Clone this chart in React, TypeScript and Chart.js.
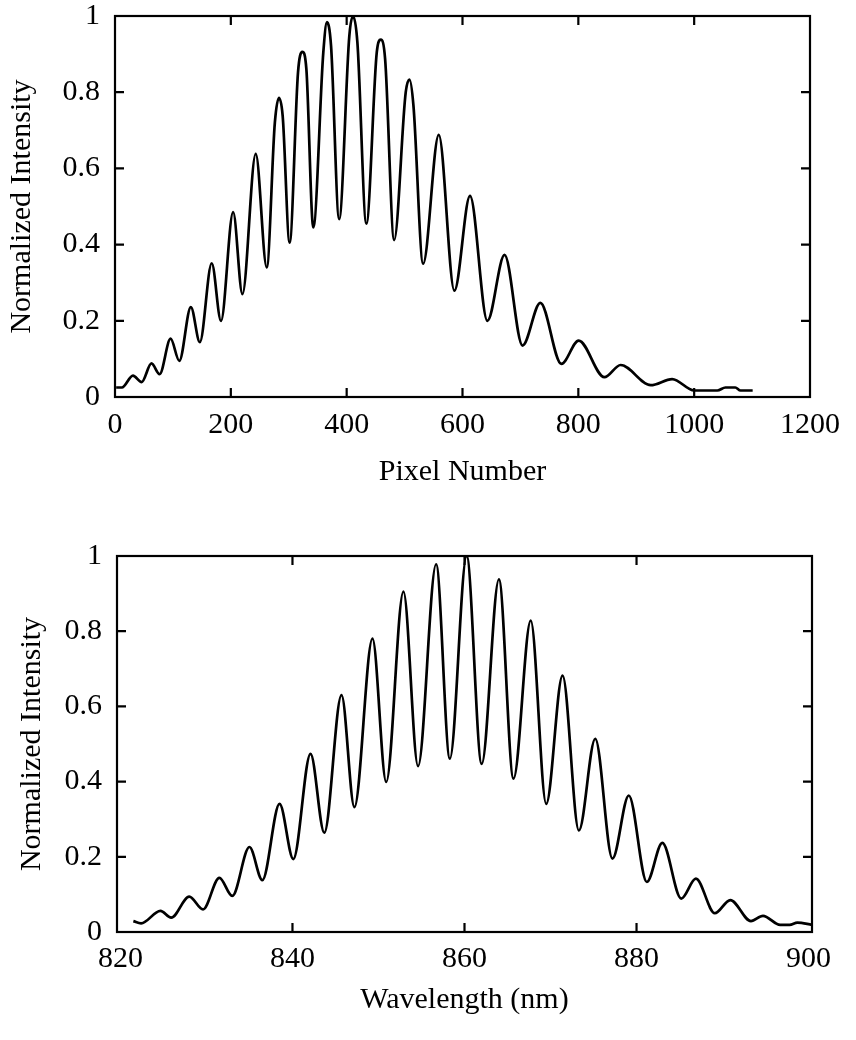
import React, { useEffect, useRef } from "react";
import { Chart, registerables } from "chart.js";

Chart.register(...registerables);

// ---- Data ----
const pixelNumber = [
  2, 12, 31, 46, 63, 77, 96, 111, 131, 146.5, 167, 183, 204, 220, 243, 262, 276, 283, 289.5,
  301.5, 316, 323.4, 330.4, 342.4, 359.7, 366, 373, 387, 404.6, 411, 418.5, 434, 452, 459,
  466.4, 482, 502, 508.5, 515.3, 532, 559, 586, 613, 643, 672.6, 703.7, 734.4, 770.7,
  800.6, 845, 873, 925, 962, 1000, 1040, 1054, 1071, 1080, 1101,
];
const pixelIntensity = [
  0.025, 0.025, 0.056, 0.039, 0.088, 0.06, 0.153, 0.095, 0.236, 0.144, 0.351, 0.2, 0.485,
  0.27, 0.638, 0.34, 0.72, 0.785, 0.738, 0.405, 0.852, 0.906, 0.861, 0.445, 0.905, 0.984,
  0.922, 0.467, 0.948, 1.0, 0.931, 0.455, 0.905, 0.938, 0.887, 0.412, 0.8, 0.833, 0.765,
  0.35, 0.688, 0.279, 0.528, 0.2, 0.373, 0.135, 0.247, 0.087, 0.148, 0.052, 0.084, 0.031,
  0.047, 0.017, 0.017, 0.025, 0.025, 0.017, 0.017,
];

const wavelengthNm = [
  821.5, 822.4, 824.65, 825.9, 828.0, 829.6, 831.5, 833.0, 835.0, 836.5, 838.5, 840.1,
  842.1, 843.7, 845.7, 847.2, 849.3, 850.9, 852.9, 854.6, 856.7, 858.3, 860.25, 862.0,
  864.0, 865.7, 867.7, 869.5, 871.4, 873.3, 875.2, 877.2, 879.1, 881.2, 883.0, 885.2,
  886.9, 889.1, 890.9, 893.3, 894.7, 896.7, 897.8, 898.7, 900.4,
];
const wavelengthIntensity = [
  0.029, 0.023, 0.056, 0.038, 0.094, 0.06, 0.144, 0.096, 0.226, 0.138, 0.341, 0.194,
  0.474, 0.264, 0.63, 0.332, 0.78, 0.399, 0.905, 0.441, 0.978, 0.461, 1.0, 0.447,
  0.938, 0.408, 0.828, 0.341, 0.682, 0.27, 0.514, 0.195, 0.363, 0.133, 0.237, 0.089,
  0.142, 0.05, 0.085, 0.029, 0.043, 0.019, 0.019, 0.025, 0.019,
];

const pixelTicks = [0, 200, 400, 600, 800, 1000, 1200];
const wavelengthTicks = [820, 840, 860, 880, 900];
const intensityTicks = [0, 0.2, 0.4, 0.6, 0.8, 1];

const FONT = "'Liberation Serif', 'Times New Roman', serif";

const frameTicks = {
  id: "frameTicks",
  afterDatasetsDraw(chart: any) {
    const { ctx, chartArea: a, scales } = chart;
    ctx.save();
    ctx.strokeStyle = "#000";
    ctx.lineWidth = 2.2;
    ctx.strokeRect(a.left, a.top, a.right - a.left, a.bottom - a.top);
    const L = 9;
    ctx.beginPath();
    for (const t of scales.x.ticks) {
      const px = scales.x.getPixelForValue(t.value);
      if (px <= a.left + 4 || px >= a.right - 4) continue;
      ctx.moveTo(px, a.bottom);
      ctx.lineTo(px, a.bottom - L);
      ctx.moveTo(px, a.top);
      ctx.lineTo(px, a.top + L);
    }
    for (const t of scales.y.ticks) {
      const py = scales.y.getPixelForValue(t.value);
      if (py <= a.top + 4 || py >= a.bottom - 4) continue;
      ctx.moveTo(a.left, py);
      ctx.lineTo(a.left + L, py);
      ctx.moveTo(a.right, py);
      ctx.lineTo(a.right - L, py);
    }
    ctx.stroke();
    ctx.restore();
  },
};

type Spec = {
  xs: number[];
  ys: number[];
  xTicks: number[];
  xMin: number;
  xMax: number;
  xTitle: string;
  padTop: number;
  padRight: number;
  yAxisWidth: number;
  xAxisHeight: number;
  xTitleBottom: number;
  xTickPad: number;
  yTitlePad: number;
};

function makeConfig(s: Spec): any {
  return {
    type: "line",
    data: {
      datasets: [
        {
          data: s.xs.map((x, i) => ({ x, y: s.ys[i] })),
          borderColor: "#000",
          borderWidth: 2.7,
          pointRadius: 0,
          fill: false,
          cubicInterpolationMode: "monotone",
        },
      ],
    },
    options: {
      responsive: false,
      animation: false,
      events: [],
      layout: { padding: { top: s.padTop, right: s.padRight, left: 0, bottom: 0 } },
      plugins: { legend: { display: false }, tooltip: { enabled: false } },
      scales: {
        x: {
          type: "linear",
          min: s.xMin,
          max: s.xMax,
          afterBuildTicks: (sc: any) => {
            sc.ticks = s.xTicks.map((v) => ({ value: v }));
          },
          afterFit: (sc: any) => {
            sc.height = s.xAxisHeight;
            sc.paddingLeft = 0;
            sc.paddingRight = 0;
          },
          grid: { display: false, drawTicks: false },
          border: { display: false },
          ticks: {
            autoSkip: false,
            maxRotation: 0,
            padding: s.xTickPad,
            color: "#000",
            font: { family: FONT, size: 30, lineHeight: 1 },
            callback: (v: any) => String(v),
          },
          title: {
            display: true,
            text: s.xTitle,
            color: "#000",
            font: { family: FONT, size: 30, lineHeight: 1.2 },
            padding: { top: 0, bottom: s.xTitleBottom },
          },
        },
        y: {
          type: "linear",
          min: 0,
          max: 1,
          afterBuildTicks: (sc: any) => {
            sc.ticks = intensityTicks.map((v) => ({ value: v }));
          },
          afterFit: (sc: any) => {
            sc.width = s.yAxisWidth;
            sc.paddingTop = 0;
            sc.paddingBottom = 0;
          },
          grid: { display: false, drawTicks: false },
          border: { display: false },
          ticks: {
            autoSkip: false,
            padding: 15,
            color: "#000",
            font: { family: FONT, size: 30, lineHeight: 1 },
            callback: (v: any) => String(v),
          },
          title: {
            display: true,
            text: "Normalized Intensity",
            color: "#000",
            font: { family: FONT, size: 30, lineHeight: 1.2 },
            padding: { top: s.yTitlePad, bottom: 0 },
          },
        },
      },
    },
    plugins: [frameTicks],
  };
}

function ChartCanvas({ spec, width, height, top }: { spec: Spec; width: number; height: number; top: number }) {
  const ref = useRef<HTMLCanvasElement | null>(null);
  useEffect(() => {
    if (!ref.current) return;
    const chart = new Chart(ref.current, makeConfig(spec));
    return () => chart.destroy();
  }, []);
  return (
    <canvas
      ref={ref}
      width={width}
      height={height}
      style={{ position: "absolute", left: 0, top, width, height, display: "block" }}
    />
  );
}

export default function App() {
  const topSpec: Spec = {
    xs: pixelNumber,
    ys: pixelIntensity,
    xTicks: pixelTicks,
    xMin: 0,
    xMax: 1200,
    xTitle: "Pixel Number",
    padTop: 16,
    padRight: 46,
    yAxisWidth: 115,
    xAxisHeight: 103,
    xTitleBottom: 10,
    xTickPad: 13,
    yTitlePad: 4,
  };
  const bottomSpec: Spec = {
    xs: wavelengthNm,
    ys: wavelengthIntensity,
    xTicks: wavelengthTicks,
    xMin: 819.6,
    xMax: 900.4,
    xTitle: "Wavelength (nm)",
    padTop: 36,
    padRight: 44,
    yAxisWidth: 117,
    xAxisHeight: 108,
    xTitleBottom: 22,
    xTickPad: 12,
    yTitlePad: 14,
  };
  return (
    <div style={{ position: "absolute", left: 0, top: 0, width: 856, height: 1040, background: "#fff" }}>
      <ChartCanvas spec={topSpec} width={856} height={500} top={0} />
      <ChartCanvas spec={bottomSpec} width={856} height={520} top={520} />
    </div>
  );
}
